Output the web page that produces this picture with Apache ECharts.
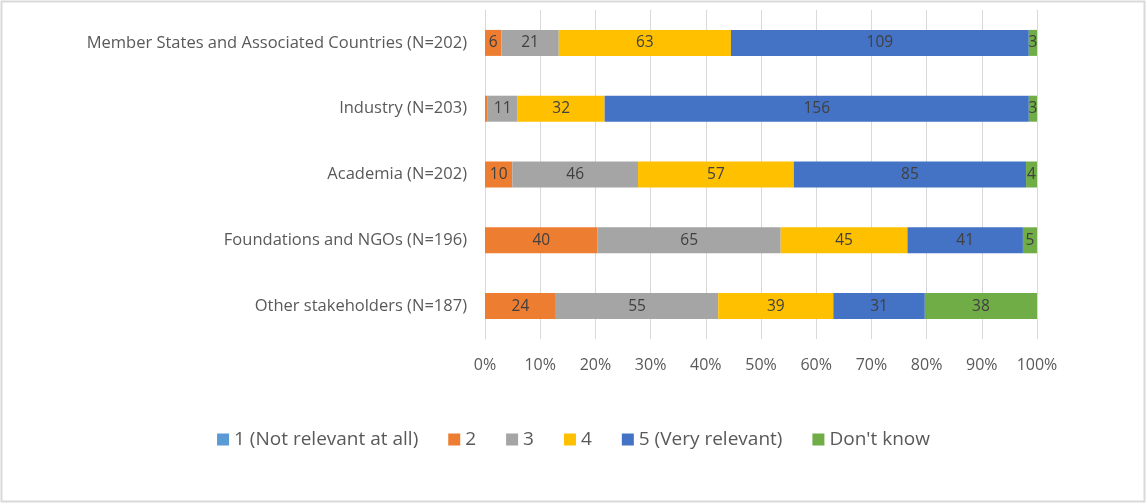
<!DOCTYPE html>
<html><head><meta charset="utf-8">
<script src="https://cdn.jsdelivr.net/npm/echarts@6/dist/echarts.min.js"></script>
<style>html,body{margin:0;padding:0;background:#fff}#c{width:1147px;height:504px}</style>
</head><body><div id="c"></div>
<script>
const categories = ["Member States and Associated Countries (N=202)","Industry (N=203)","Academia (N=202)","Foundations and NGOs (N=196)","Other stakeholders (N=187)"];
const seriesNames = ["1 (Not relevant at all)","2","3","4","5 (Very relevant)","Don't know"];
const s1 = [0,0,0,0,0];
const s2 = [6,1,10,40,24];
const s3 = [21,11,46,65,55];
const s4 = [63,32,57,45,39];
const s5 = [109,156,85,41,31];
const sDK = [3,3,4,5,38];
const tickLabels = ["0%","10%","20%","30%","40%","50%","60%","70%","80%","90%","100%"];
const colors = ["#5B9BD5","#ED7D31","#A5A5A5","#FFC000","#4472C4","#70AD47"];

const all = [s1,s2,s3,s4,s5,sDK];
const totals = categories.map((_,i)=>all.reduce((a,s)=>a+s[i],0));
const font = "'Open Sans', sans-serif";
const chart = echarts.init(document.getElementById('c'));
chart.setOption({
  animation:false,
  textStyle:{fontFamily:font},
  graphic:[{type:'rect',shape:{x:1.5,y:1.5,width:1143,height:500},style:{fill:'none',stroke:'#d9d9d9',lineWidth:2},silent:true}],
  grid:{left:485,right:110,top:10,height:329},
  legend:{top:425,left:'center',itemWidth:12,itemHeight:12,itemGap:30,icon:'rect',
    textStyle:{fontSize:19,color:'#595959',fontFamily:font},data:seriesNames},
  xAxis:{type:'value',min:0,max:100,interval:10,
    axisLabel:{color:'#595959',fontSize:16,margin:18,fontFamily:font,formatter:v=>tickLabels[Math.round(v/10)]},
    splitLine:{lineStyle:{color:'#d9d9d9'}},axisLine:{show:false},axisTick:{show:false}},
  yAxis:{type:'category',data:categories,inverse:true,
    axisLabel:{color:'#595959',fontSize:16.5,margin:18,fontFamily:font},
    axisLine:{lineStyle:{color:'#d9d9d9'}},axisTick:{show:false}},
  series: all.map((s,k)=>({
    name:seriesNames[k],type:'bar',stack:'t',barWidth:26,
    itemStyle:{color:colors[k]},
    data:s.map((v,i)=>({value:v/totals[i]*100,raw:v})),
    label:{show:true,position:'inside',color:'#404040',fontSize:15.5,fontFamily:font,
      formatter:p=>p.data.raw>=2?String(p.data.raw):''}
  }))
});
</script></body></html>
